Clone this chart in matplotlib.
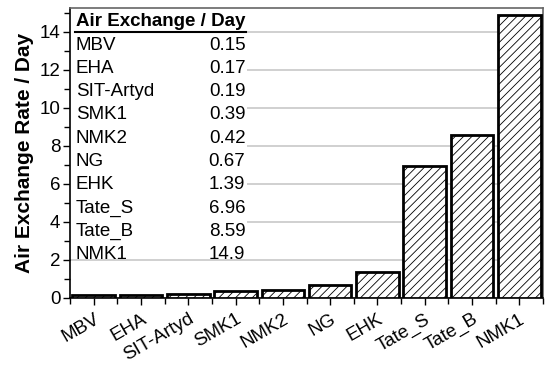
import matplotlib
matplotlib.use('Agg')
import matplotlib.pyplot as plt
from matplotlib.ticker import MultipleLocator, FixedLocator

sites = ['MBV', 'EHA', 'SIT-Artyd', 'SMK1', 'NMK2', 'NG', 'EHK', 'Tate_S', 'Tate_B', 'NMK1']
rates = [0.15, 0.17, 0.19, 0.39, 0.42, 0.67, 1.39, 6.96, 8.59, 14.9]
rate_labels = ['0.15', '0.17', '0.19', '0.39', '0.42', '0.67', '1.39', '6.96', '8.59', '14.9']

plt.rcParams['font.family'] = 'Liberation Sans'
plt.rcParams['hatch.color'] = '#666666'
plt.rcParams['hatch.linewidth'] = 0.6

fig = plt.figure(figsize=(5.5, 3.67), dpi=100)
ax = fig.add_axes([70/550, 1 - 298/367, 473/550, 290/367])

x = list(range(len(sites)))
ax.bar(x, rates, width=0.9, color='white', edgecolor='black', linewidth=2,
       hatch='////', zorder=3)

ax.set_xlim(-0.5, len(sites) - 0.5)
ax.set_ylim(0, 15.26)
ax.yaxis.set_major_locator(MultipleLocator(2))
ax.yaxis.set_minor_locator(MultipleLocator(1))
ax.set_xticks(x)
ax.set_xticklabels(sites, rotation=30, ha='right', rotation_mode='anchor')
ax.xaxis.set_minor_locator(FixedLocator([i - 0.5 for i in range(len(sites) + 1)]))
ax.tick_params(axis='both', which='major', labelsize=13.5, direction='out', length=5, width=1)
ax.tick_params(axis='both', which='minor', direction='out', length=4, width=1)
ax.tick_params(axis='x', pad=4)
ax.tick_params(axis='y', pad=2)

ax.grid(axis='y', color='#c8c8c8', linewidth=1.2, zorder=0)
ax.set_axisbelow(True)

for s in ['left', 'bottom']:
    ax.spines[s].set_color('black')
    ax.spines[s].set_linewidth(1.2)
for s in ['top', 'right']:
    ax.spines[s].set_color('#666666')
    ax.spines[s].set_linewidth(1.2)

ax.set_ylabel('Air Exchange Rate / Day', fontsize=15, fontweight='bold', labelpad=4)

# table in the upper left
ax.add_patch(plt.Rectangle((0, 0.17), 0.375, 0.83, transform=ax.transAxes,
                           facecolor='white', edgecolor='none', zorder=1))
ax.text(0.012, 0.952, 'Air Exchange / Day', transform=ax.transAxes, fontsize=13.5,
        fontweight='bold', va='center', ha='left', zorder=4)
ax.plot([0.01, 0.373], [0.917, 0.917], transform=ax.transAxes, color='black',
        linewidth=1.5, zorder=4)
for i, (s, v) in enumerate(zip(sites, rate_labels)):
    yy = (298 - (45 + 23.3 * i)) / 290
    ax.text(0.012, yy, s, transform=ax.transAxes, fontsize=13.5, va='center', ha='left', zorder=4)
    ax.text(0.371, yy, v, transform=ax.transAxes, fontsize=13.5, va='center', ha='right', zorder=4)

fig.savefig('out.png', dpi=100)
